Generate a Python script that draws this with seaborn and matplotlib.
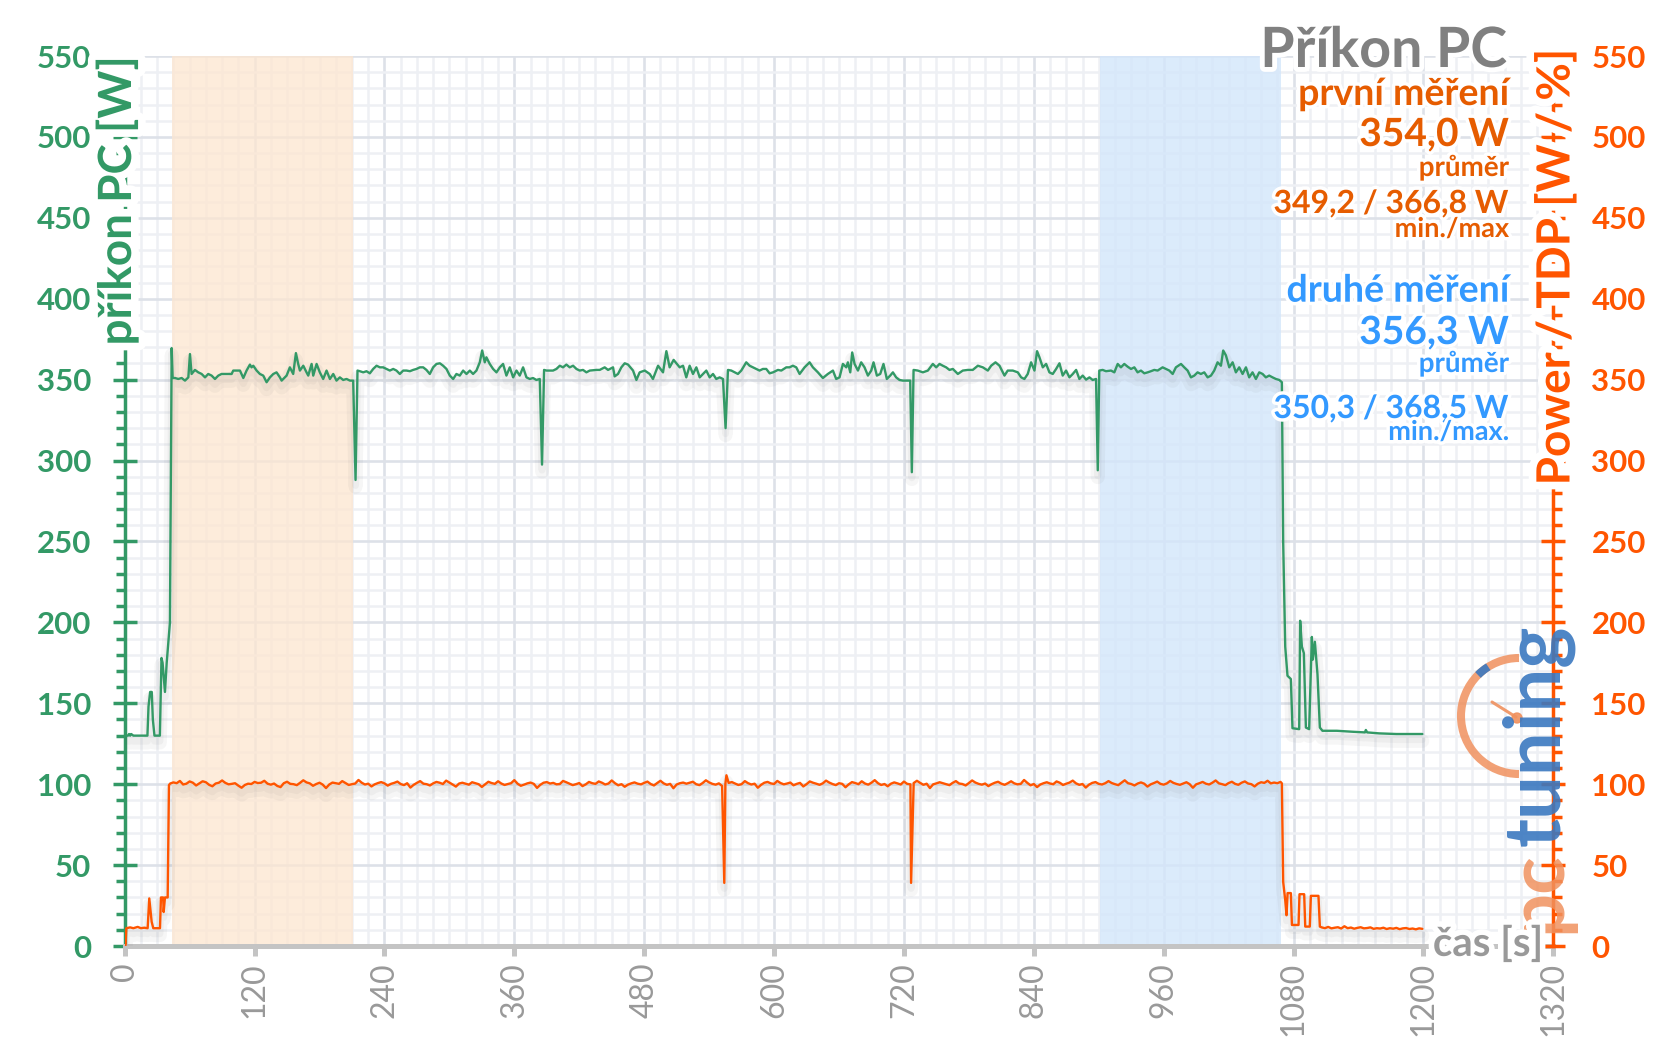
import numpy as np
import pandas as pd
import matplotlib
matplotlib.use("Agg")
import matplotlib.pyplot as plt
import matplotlib.patheffects as pe
from matplotlib.patches import Arc, Circle
from matplotlib.ticker import MultipleLocator
import seaborn as sns

# ---------------- data ----------------
X_TICKS = [0, 120, 240, 360, 480, 600, 720, 840, 960, 1080, 1200, 1320]
Y_TICKS = [0, 50, 100, 150, 200, 250, 300, 350, 400, 450, 500, 550]

BAND_FIRST = (44, 211)      # první měření
BAND_SECOND = (901.5, 1068)  # druhé měření

# green: příkon PC [W]  (time s, watts)
GREEN_START = [(0, 130), (3, 130), (4, 131), (5, 130), (6, 131), (8, 130), (21, 130), (22, 148),
               (23.5, 157), (25, 157), (26, 140), (27.5, 130), (32.5, 130), (34, 178), (35, 175),
               (37.2, 157), (38.8, 175), (40.9, 193), (41.8, 200), (43.4, 369.5)]
GREEN_RUN1 = [(44.3, 351), (46.5, 351), (49.5, 350.4), (52.6, 351), (55.7, 349.4), (58.8, 351.4),
              (60.3, 365.8), (61.8, 353.5), (64.9, 356), (68.0, 354.5), (71.1, 353.5), (74.2, 351.4),
              (77.2, 353.5), (80.3, 352.5), (83.4, 350.4), (86.5, 352.5), (89.5, 353.5), (92.6, 353.5),
              (98.8, 353.5), (100.3, 355.6), (103.4, 355.6), (106.5, 355.6), (109.6, 351), (112.6, 355.6),
              (115.7, 359.3), (117.2, 357.6), (118.8, 358.6), (121.9, 355.6), (124.9, 353.5), (128.0, 352.5),
              (131.1, 348.4), (134.2, 351.4), (137.3, 353.5), (140.3, 354.5), (143.4, 351.4), (145.0, 349.4),
              (149.6, 352.5), (152.6, 357.6), (155.7, 353.5), (158.2, 366.4), (160.3, 359.7), (161.9, 355.6),
              (165.0, 358.6), (168.0, 354.5), (169.6, 352.5), (172.7, 359.7), (174.2, 352.5), (177.3, 359.7),
              (180.3, 354.5), (183.4, 350.4), (186.5, 355.6), (189.6, 350.4), (192.7, 353.5), (195.7, 349.4),
              (198.8, 351.4), (201.9, 349.8), (205.0, 350.4), (208.1, 349.4), (211.1, 349.4), (213.3, 288),
              (215.1, 355.6)]
GREEN_RUN2 = [(217.3, 355.2), (220.4, 354.5), (223.4, 355.2), (226.5, 353.9), (229.6, 356.6), (232.7, 358.6),
              (235.8, 357.6), (238.8, 357.6), (241.9, 356.6), (245.0, 355.6), (248.1, 356.6), (251.1, 355.6),
              (254.2, 353.5), (257.3, 355.6), (260.4, 355.6), (263.5, 355.2), (266.5, 356), (269.6, 356.6),
              (272.7, 357.6), (275.8, 357.6), (278.8, 356), (281.9, 353.5), (285.0, 357.6), (288.1, 359.7),
              (291.2, 360.1), (294.2, 358.6), (297.3, 356.6), (300.4, 352.5), (303.5, 350.4), (306.5, 353.5),
              (309.6, 352.5), (312.7, 355.6), (315.8, 353.5), (318.9, 355.6), (321.9, 353.5), (325.0, 355.6),
              (328.1, 360.7), (330.3, 368), (332.7, 360.7), (334.2, 363.8), (337.3, 359.7), (340.4, 356.6),
              (343.5, 354.5), (346.6, 357.6), (349.6, 359.7), (352.7, 352.5), (355.8, 357.6), (358.9, 351.4),
              (362.0, 355.6), (365.0, 352.5), (368.1, 357.6), (371.2, 351.4), (374.3, 350.4), (377.3, 351),
              (380.4, 349.8), (383.5, 350.4), (385.6, 297.5), (387.5, 356)]
GREEN_RUN3 = [(389.7, 355.6), (392.7, 355.6), (395.8, 355.6), (398.9, 356.6), (402.0, 358.6), (405.0, 357.6),
              (408.1, 359.3), (411.2, 357.6), (414.3, 358.6), (417.4, 356.6), (420.4, 355.6), (423.5, 356),
              (426.6, 354.5), (429.7, 355.6), (435.8, 356), (438.9, 356), (443.5, 357.6), (446.6, 356),
              (451.2, 357.6), (452.7, 352), (455.8, 353.5), (458.9, 357.6), (462.0, 360.1), (465.1, 359.3),
              (469.7, 355.6), (472.8, 349.8), (475.8, 354.5), (480.5, 355.6), (485.1, 353.5), (488.1, 350.4),
              (492.8, 358.6), (497.4, 354.5), (500.5, 367.6), (503.5, 357.6), (507.2, 362.2), (510.3, 359.7),
              (512.8, 357.6), (515.9, 358.6), (518.9, 351.4), (522.0, 358.6), (525.1, 353.5), (528.2, 357.6),
              (531.3, 351.4), (534.3, 353.5), (537.4, 355.6), (540.5, 351.4), (543.6, 353.5), (546.6, 350.4),
              (549.7, 351.4), (552.8, 350.4), (555.2, 320), (557.4, 356)]
GREEN_RUN4 = [(560.5, 355.6), (563.6, 354.5), (566.6, 353.5), (569.7, 355.6), (574.3, 360.7), (577.4, 358.6),
              (580.5, 357.6), (583.6, 356.6), (586.6, 355.6), (589.7, 356.6), (592.8, 356.6), (595.9, 353.9),
              (599.0, 354.5), (603.6, 356), (606.7, 355.6), (611.3, 357.6), (614.3, 357.6), (617.4, 358.6),
              (620.5, 357.6), (623.6, 353.5), (628.2, 357.6), (632.8, 360.7), (635.9, 357.6), (640.5, 354.5),
              (645.1, 351), (649.7, 353.5), (654.4, 355.6), (657.4, 350.4), (660.5, 351.4), (663.6, 359.7),
              (666.7, 357.6), (668.2, 360.7), (670.4, 354.5), (672.2, 366.8), (674.4, 359.7), (677.5, 355.6),
              (680.5, 360.7), (683.6, 357.6), (686.7, 352.5), (689.8, 355.6), (691.9, 360.7), (695.0, 352.5),
              (698.1, 353.5), (701.1, 359.7), (704.2, 350.4), (707.3, 352.5), (709.8, 354.5), (712.8, 351.4),
              (715.9, 349.8), (719.0, 349.4), (723.6, 349.4), (725.8, 349.4), (727.3, 292.8), (728.9, 356)]
GREEN_RUN5 = [(732.8, 355.6), (737.5, 354.5), (742.1, 355.6), (746.7, 359.7), (749.8, 357.6), (752.9, 359.7),
              (755.9, 358.6), (759.0, 357.6), (762.1, 356), (765.2, 356.6), (769.8, 353.5), (774.4, 355.6),
              (779.0, 356), (783.6, 356), (788.3, 358.6), (792.9, 357.6), (797.5, 355.6), (800.6, 358.6),
              (804.6, 360.7), (808.3, 358.6), (812.9, 352.5), (815.9, 355.6), (820.6, 355.6), (825.2, 354.5),
              (828.3, 351.4), (831.3, 350.4), (834.4, 353.5), (837.5, 360.7), (840.6, 355.6), (843.0, 367.6),
              (845.2, 363.8), (848.3, 357.6), (851.4, 359.7), (854.4, 354.5), (857.5, 353.5), (860.6, 356.6),
              (863.7, 360.1), (866.7, 352.5), (869.8, 355.6), (872.9, 351.4), (876.0, 353.5), (879.1, 356),
              (882.1, 350.4), (885.2, 352.5), (888.3, 350), (891.4, 351.4), (894.4, 349.8), (897.5, 350.4),
              (899.1, 294), (900.5, 355.6)]
GREEN_RUN6 = [(903.6, 356), (906.7, 355.2), (911.3, 355.6), (914.4, 354.5), (917.5, 359.7), (920.5, 357.6),
              (923.6, 359.7), (926.7, 358), (929.8, 356.6), (932.9, 357.6), (935.9, 354.5), (939.0, 355.6),
              (942.1, 353.9), (945.2, 354.5), (948.2, 355.2), (951.3, 356), (954.4, 355.6), (959.0, 357.6),
              (962.1, 356.6), (965.2, 355.6), (968.3, 353.5), (971.3, 357.6), (976.0, 359.7), (979.0, 357.6),
              (982.1, 355.6), (985.2, 351.4), (988.3, 352.5), (991.3, 354.5), (994.4, 353.5), (997.5, 354.5),
              (1000.6, 351.4), (1003.7, 352.5), (1006.7, 355.6), (1009.8, 360.7), (1012.9, 358.6), (1015.0, 368),
              (1017.5, 365), (1020.6, 357.6), (1023.7, 360.7), (1026.7, 354.5), (1029.8, 357.6), (1032.9, 353.5),
              (1036.0, 357.6), (1039.0, 351.4), (1042.1, 354.5), (1045.2, 350.4), (1048.3, 354.5), (1051.4, 353.5),
              (1054.4, 351.4), (1057.5, 352.5), (1060.6, 351.4), (1063.7, 350.4), (1066.8, 349.8), (1069.2, 348.4)]
GREEN_END = [(1070.4, 250), (1072.3, 185), (1074.4, 167), (1077.5, 165), (1079.0, 134.6), (1085.2, 134),
             (1086.1, 201), (1087.7, 185), (1089.5, 181), (1091.4, 135), (1094.4, 134), (1096.9, 191),
             (1097.8, 177), (1099.7, 188), (1102.1, 168), (1104.3, 135), (1106.7, 133), (1120, 133),
             (1134.5, 132.4), (1146, 132), (1146.8, 133.5), (1148, 132), (1159, 131.4), (1175, 131), (1199, 131)]

# orange: Power / TDP [W / %]
ORANGE_START = [(0, 0.6), (0.8, 0.6), (1.5, 11), (5, 11.5), (8, 11), (12, 11.8), (15, 11), (18, 11.3),
                (21.2, 11), (22.7, 29.4), (24.9, 15), (26.4, 11), (32.6, 11), (33.5, 30), (35.5, 30),
                (36, 21), (37.2, 30), (39.7, 30), (40.9, 99.4)]
ORANGE_PLATEAU_T0, ORANGE_PLATEAU_STEP = 42, 3
ORANGE_PLATEAU = [
    100.4, 101.1, 100.6, 102.0, 99.8, 100.3, 101.7, 100.9, 99.2, 100.5,
    101.8, 101.2, 99.6, 98.7, 100.4, 100.9, 102.3, 100.8, 99.9, 100.2,
    100.6, 99.1, 97.8, 99.5, 100.3, 100.1, 101.4, 100.7, 100.9, 102.1,
    100.3, 99.7, 100.4, 98.9, 98.2, 100.6, 101.5, 100.2, 100.0, 99.4,
    100.8, 102.4, 101.1, 100.5, 99.0, 100.1, 100.9, 99.7, 97.6, 99.8,
    101.0, 100.6, 100.2, 101.9, 100.7, 99.5, 100.0, 100.4, 102.6, 100.9,
    99.8, 100.3, 98.6, 99.9, 100.7, 101.3, 100.5, 99.1, 100.2, 100.8,
    101.6, 100.1, 99.4, 100.6, 97.9, 99.6, 100.8, 101.9, 100.3, 100.0,
    99.2, 100.5, 101.4, 100.9, 100.1, 102.2, 101.0, 99.8, 98.5, 100.4,
    100.9, 100.3, 99.7, 101.2, 100.6, 100.0, 98.3, 99.9, 101.5, 100.7,
    100.2, 101.8, 100.4, 99.5, 100.1, 100.6, 102.5, 100.3, 99.0, 99.7,
    100.5, 101.0, 100.2, 97.7, 99.6, 100.9, 101.3, 100.4, 100.8, 99.9,
    100.1, 102.0, 101.2, 100.3, 99.4, 100.0, 100.7, 98.8, 99.9, 101.4,
    100.6, 100.2, 101.7, 100.9, 99.8, 100.4, 102.3, 100.6, 99.3, 100.0,
    98.4, 99.7, 100.5, 101.1, 100.3, 99.9, 100.8, 101.6, 100.1, 99.2,
    100.7, 102.1, 100.5, 99.6, 100.2, 97.5, 99.8, 100.6, 101.0, 100.3,
    100.9, 101.5, 100.0, 99.4, 100.7, 102.4, 101.1, 100.2, 99.7, 100.5,
    98.9, 100.1, 100.8, 101.3, 100.4, 99.5, 100.0, 101.9, 100.6, 99.8,
    100.3, 97.8, 99.6, 100.9, 101.4, 100.5, 100.1, 102.0, 100.7, 99.9,
    100.4, 101.0, 99.3, 100.2, 100.8, 98.6, 100.0, 101.7, 100.9, 100.3,
    99.6, 100.5, 102.2, 101.0, 100.1, 99.4, 100.6, 100.2, 98.1, 99.9,
    101.3, 100.7, 100.0, 101.8, 100.4, 99.7, 100.9, 102.5, 100.6, 99.5,
    100.1, 98.7, 100.3, 101.1, 100.5, 99.8, 101.6, 100.2, 99.9, 100.7,
    102.1, 100.8, 99.6, 100.3, 97.6, 99.9, 100.5, 101.2, 100.6, 100.0,
    99.4, 100.8, 101.9, 100.4, 100.1, 99.2, 100.7, 102.3, 101.0, 100.2,
    99.7, 100.4, 98.8, 100.0, 100.9, 101.5, 100.3, 99.6, 100.6, 101.8,
    100.5, 99.9, 100.2, 102.6, 100.8, 99.3, 100.1, 98.2, 99.8, 100.6,
    101.2, 100.4, 100.0, 101.7, 100.9, 99.5, 100.3, 101.0, 102.2, 100.5,
    99.6, 100.1, 97.9, 99.7, 100.8, 101.3, 100.2, 99.8, 100.6, 101.9,
    100.7, 100.0, 99.4, 100.9, 102.4, 100.6, 100.1, 99.2, 100.4, 101.1,
    100.3, 98.5, 99.9, 100.7, 101.6, 100.2, 99.7, 100.5, 102.0, 100.8,
    100.1, 99.6, 100.4, 101.2, 100.0, 97.8, 99.9, 100.6, 101.4, 100.3,
    99.8, 100.9, 102.3, 100.5, 100.0, 99.4, 100.7, 101.5, 100.2, 99.6,
    100.9, 101.7, 100.4, 100.0, 98.6, 100.3, 101.2, 100.8, 102.1, 100.5,
    101.0, 100.6, 101.4]
ORANGE_DIPS = [(554.0, 39.0), (556.0, 105.5), (726.6, 39.0)]
ORANGE_END = [(1069.2, 100.5), (1070.4, 39.7), (1072.3, 28.4), (1073.5, 19), (1074.5, 32.7), (1077.5, 32.7),
              (1078.5, 13), (1084.6, 13), (1085.5, 32), (1089.8, 32), (1090.8, 12), (1095, 12), (1096, 31),
              (1103, 31), (1104.3, 12)]
ORANGE_TAIL_T0, ORANGE_TAIL_STEP = 1106, 3
ORANGE_TAIL = [11.5, 11.0, 11.8, 10.9, 11.3, 11.6, 10.8, 12.2, 11.0, 11.4, 10.7, 11.2, 11.6, 10.9, 11.1, 11.5,
               10.6, 11.0, 10.8, 11.3, 10.5, 11.0, 10.7, 11.2, 10.4, 10.9, 11.1, 10.5, 10.8, 10.3, 10.9, 10.6]

# ---------------- assemble ----------------
green_pts = GREEN_START + GREEN_RUN1 + GREEN_RUN2 + GREEN_RUN3 + GREEN_RUN4 + GREEN_RUN5 + GREEN_RUN6 + GREEN_END
green = pd.DataFrame(green_pts, columns=["t", "w"]).sort_values("t")

plat = [(ORANGE_PLATEAU_T0 + i * ORANGE_PLATEAU_STEP, v) for i, v in enumerate(ORANGE_PLATEAU)]
tail = [(ORANGE_TAIL_T0 + i * ORANGE_TAIL_STEP, v) for i, v in enumerate(ORANGE_TAIL)]
orange = pd.DataFrame(ORANGE_START + plat + ORANGE_DIPS + ORANGE_END + tail, columns=["t", "w"])
orange = orange.sort_values("t").drop_duplicates("t")

# ---------------- style ----------------
W, H, DPI = 1657, 1044, 100
sns.set_theme(style="white")
plt.rcParams['font.family'] = ['Lato', 'DejaVu Sans']

GREEN = '#339966'
ORANGE = '#ff5500'
ORANGE_TXT = '#e65c00'
BLUE = '#3399ff'
GRAYTXT = '#999999'
AXGRAY = '#c4c4c4'

fig = plt.figure(figsize=(W / DPI, H / DPI), dpi=DPI)
x0, x1, ytop, ybot = 124.7, 1553.3, 56, 946
ax = fig.add_axes([x0 / W, 1 - ybot / H, (x1 - x0) / W, (ybot - ytop) / H])
ax.set_facecolor('white')
ax.set_xlim(0, 1320)
ax.set_ylim(0, 550)
ax.set_axisbelow(True)

ax.set_xticks(X_TICKS)
ax.set_xticklabels([str(v) for v in X_TICKS])
ax.xaxis.set_minor_locator(MultipleLocator(15))
ax.set_yticks(Y_TICKS)
ax.set_yticklabels([str(v) for v in Y_TICKS], fontweight='bold')
ax.yaxis.set_minor_locator(MultipleLocator(10))

ax.grid(which='minor', color='#eef0f4', lw=1.8, zorder=0)
ax.grid(which='major', color='#dde1e8', lw=1.9, zorder=0)

ax.axvspan(*BAND_FIRST, color='#fde6d0', alpha=0.75, lw=0, zorder=1)
ax.axvspan(*BAND_SECOND, color='#d3e6fb', alpha=0.8, lw=0, zorder=1)

for s in ['top', 'right']:
    ax.spines[s].set_visible(False)
ax.spines['left'].set_color(GREEN)
ax.spines['left'].set_linewidth(2.5)
ax.spines['bottom'].set_color(AXGRAY)
ax.spines['bottom'].set_linewidth(3.6)

ax.tick_params(axis='y', which='major', direction='inout', length=17, width=2.5, color=GREEN,
               labelcolor=GREEN, labelsize=22.5, pad=15.5, left=True)
ax.tick_params(axis='y', which='minor', direction='out', length=6.5, width=2.5, color=GREEN, left=True)
ax.tick_params(axis='x', which='major', direction='out', length=7, width=3.6, color=AXGRAY,
               labelcolor=GRAYTXT, labelsize=23, labelrotation=90, pad=4.5, bottom=True)
ax.tick_params(axis='x', which='minor', length=0)

shadow = [pe.SimpleLineShadow(offset=(0, -5), shadow_color='0.35', alpha=0.05, linewidth=10),
          pe.SimpleLineShadow(offset=(0, -4), shadow_color='0.35', alpha=0.05, linewidth=5),
          pe.Normal()]

sns.lineplot(data=green, x="t", y="w", ax=ax, color=GREEN, linewidth=1.7, estimator=None, zorder=4)
ax.lines[-1].set_path_effects(shadow)
ax.set_xlabel('')
ax.set_ylabel('')

ax2 = ax.twinx()
ax2.set_ylim(0, 550)
ax2.set_yticks(Y_TICKS)
ax2.set_yticklabels([str(v) for v in Y_TICKS], fontweight='bold')
ax2.yaxis.set_minor_locator(MultipleLocator(10))
for s in ['top', 'left', 'bottom']:
    ax2.spines[s].set_visible(False)
ax2.spines['right'].set_color(ORANGE)
ax2.spines['right'].set_linewidth(2.5)
ax2.tick_params(axis='y', which='major', direction='inout', length=17, width=2.5, color=ORANGE,
                labelcolor=ORANGE, labelsize=22.5, pad=19, right=True)
ax2.tick_params(axis='y', which='minor', direction='out', length=6.5, width=2.5, color=ORANGE, right=True)
sns.lineplot(data=orange, x="t", y="w", ax=ax2, color=ORANGE, linewidth=1.7, estimator=None, zorder=4)
ax2.lines[-1].set_path_effects(shadow)
ax2.set_xlabel('')
ax2.set_ylabel('')
ax2.grid(False)

# ---------------- overlay (pixel coordinates) ----------------
ov = fig.add_axes([0, 0, 1, 1])
ov.set_xlim(0, W)
ov.set_ylim(H, 0)
ov.axis('off')

def glow(w=5):
    return [pe.withStroke(linewidth=w, foreground='white')]

# logo
ov.add_patch(Arc((1519, 716), 116, 116, theta1=90, theta2=270, color='#f0915e', lw=5.8, alpha=0.85))
ov.add_patch(Arc((1519, 716), 116, 116, theta1=225, theta2=238, color='#3a78c0', lw=5.8, alpha=0.9))
ov.plot([1492, 1516], [702, 717], color='#f0915e', lw=2.2, alpha=0.9)
ov.add_patch(Circle((1517, 718), 5, color='#f0915e', alpha=0.9))
ov.text(1538, 933, 'pc', rotation=90, ha='center', va='bottom', fontsize=56, fontweight='bold',
        color='#f0915e', alpha=0.85)
ov.text(1538, 625, 'tuning', rotation=90, ha='center', va='top', fontsize=56, fontweight='bold',
        color='#3a78c0', alpha=0.9)

# axis labels
ov.text(117, 201, 'příkon PC [W]', rotation=90, ha='center', va='center', fontsize=33,
        fontweight='bold', color=GREEN, path_effects=glow(11))
ov.text(1556, 267, 'Power / TDP [W / %]', rotation=90, ha='center', va='center', fontsize=33,
        fontweight='bold', color=ORANGE, path_effects=glow(11))
ov.text(1488, 944, 'čas [s]', ha='center', va='center', fontsize=29, fontweight='bold',
        color=GRAYTXT, path_effects=glow(8))

# title and annotations
ov.text(1507, 67, 'Příkon PC', ha='right', va='baseline', fontsize=40, fontweight='bold',
        color='#808080', path_effects=glow(7))
RX = 1509
notes = [
    ('první měření', 105, 27, ORANGE_TXT),
    ('354,0 W', 146, 28, ORANGE_TXT),
    ('průměr', 176, 20, ORANGE_TXT),
    ('349,2 / 366,8 W', 213, 23, ORANGE_TXT),
    ('min./max', 237, 19.5, ORANGE_TXT),
    ('druhé měření', 301.7, 27, BLUE),
    ('356,3 W', 344, 28, BLUE),
    ('průměr', 372, 20, BLUE),
    ('350,3 / 368,5 W', 418, 23, BLUE),
    ('min./max.', 440, 19.5, BLUE),
]
for txt, yb, fs, col in notes:
    ov.text(RX, yb, txt, ha='right', va='baseline', fontsize=fs, fontweight='bold', color=col,
            path_effects=glow(5))

fig.savefig('out.png', dpi=DPI)
